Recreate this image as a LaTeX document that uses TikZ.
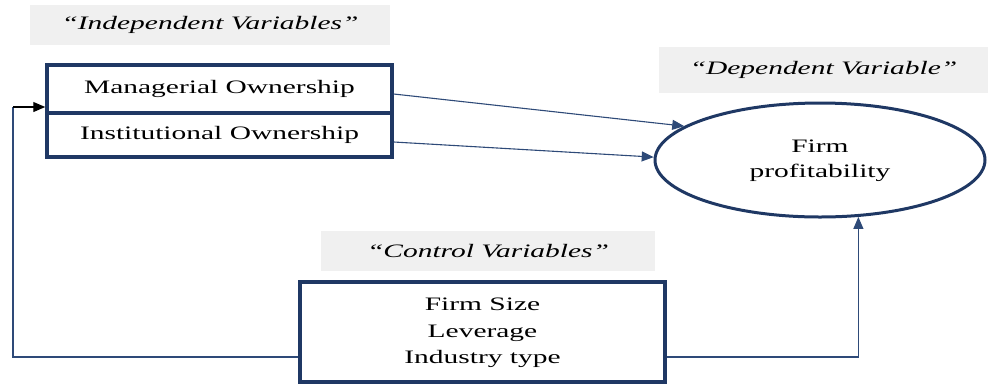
\documentclass[tikz,border=0pt]{standalone}
\usepackage{fontspec}
\setmainfont{Liberation Serif}
\usetikzlibrary{arrows.meta,shapes.geometric}
\definecolor{navy}{HTML}{1F3864}
\definecolor{wire}{HTML}{2E4A78}
\definecolor{tag}{HTML}{F0F0F0}
% the lettering is set wide: Times-like glyphs stretched sideways
\newcommand{\widetxt}[1]{\scalebox{1.55}[1]{#1}}
\newcommand{\widestack}[2]{\scalebox{1.55}[1]{\fontsize{19}{#1}\selectfont\begin{tabular}{@{}c@{}}#2\end{tabular}}}
\begin{document}
\begin{tikzpicture}[x=1pt,y=-1pt,
  tagbox/.style={fill=tag, inner sep=0pt, font=\fontsize{19}{22}\selectfont\itshape},
  varbox/.style={draw=navy, line width=3.5pt, inner sep=0pt, font=\fontsize{19}{22}\selectfont},
  conn/.style={draw=wire, line width=1.1pt},
  tip/.style={-{Triangle[length=12pt,width=10pt]}}
]
\useasboundingbox (0,0) rectangle (988,384);

% category tags
\node[tagbox, minimum width=360pt, minimum height=40pt] (indtag) at (210,25) {\widetxt{“Independent Variables”}};
\node[tagbox, minimum width=329pt, minimum height=46pt] (deptag) at (823.5,70) {\widetxt{“Dependent Variable”}};
\node[tagbox, minimum width=334pt, minimum height=40pt] (ctltag) at (488,251) {\widetxt{“Control Variables”}};

% independent variables
\node[varbox, minimum width=345pt, minimum height=48pt] (mgr) at (219.5,89) {\widetxt{Managerial Ownership}};
\node[varbox, minimum width=345pt, minimum height=44pt] (inst) at (219.5,135) {\widetxt{Institutional Ownership}};

% dependent variable
\node[ellipse, draw=navy, line width=3pt, minimum width=330pt, minimum height=114pt, inner sep=0pt] (fp) at (820,160)
  {\widestack{25}{Firm\\profitability}};

% control variables
\node[varbox, minimum width=365pt, minimum height=100pt] (ctrl) at (482.5,332)
  {\widestack{26.5}{Firm Size\\Leverage\\Industry type}};

% effects on profitability
\draw[conn, tip] ([yshift=-5pt]mgr.east) -- (fp.166);
\draw[conn, tip] ([yshift=-7pt]inst.east) -- (fp.179);
\draw[conn, tip] ([yshift=-25pt]ctrl.east) -| (fp.-56);

% control loop back to the independent variables
\coordinate (lt) at (13,107);
\draw[conn] ([yshift=-25pt]ctrl.west) -| (lt);
\draw[line width=1.1pt, black, tip] (lt) -- (lt -| mgr.west);
\end{tikzpicture}
\end{document}
